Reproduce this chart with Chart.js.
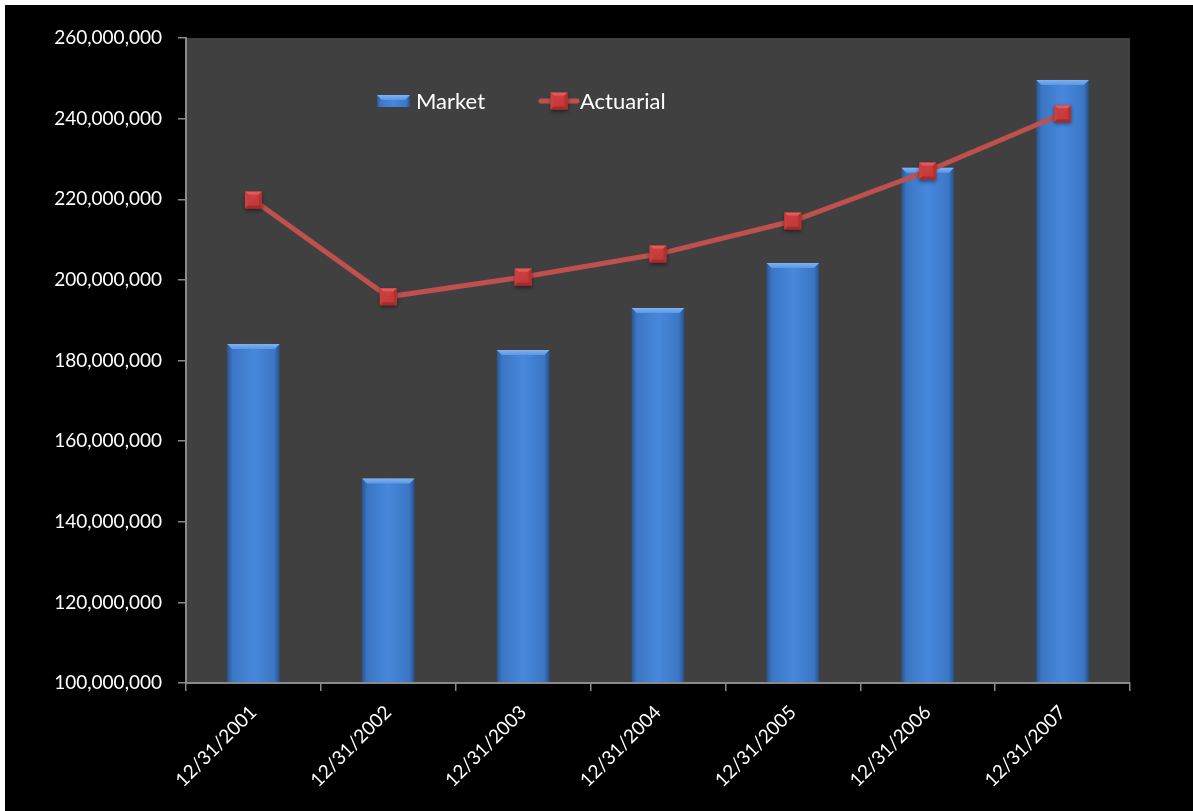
<!DOCTYPE html>
<html>
<head>
<meta charset="utf-8">
<script src="https://cdn.jsdelivr.net/npm/chart.js@4.4.1/dist/chart.umd.min.js"></script>
<style>
html,body{margin:0;padding:0;background:#ffffff;}
#wrap{position:absolute;left:5px;top:5px;width:1188px;height:806px;background:#000;}
canvas{display:block;}
</style>
</head>
<body>
<div id="wrap"><canvas id="c" width="1188" height="806"></canvas></div>
<script>
const categories = ["12/31/2001","12/31/2002","12/31/2003","12/31/2004","12/31/2005","12/31/2006","12/31/2007"];
const marketValues = [184100000, 150700000, 182600000, 193000000, 204200000, 227800000, 249600000];
const actuarialValues = [219800000, 195800000, 200700000, 206400000, 214600000, 227000000, 241200000];
const yMin = 100000000, yMax = 260000000, yStep = 20000000;
const seriesNames = ["Market","Actuarial"];

const FONT = "Lato, 'Open Sans', sans-serif";

const bgPlugin = {
  id: 'bg',
  beforeDraw(chart) {
    const {ctx, chartArea: a} = chart;
    ctx.save();
    ctx.fillStyle = '#000';
    ctx.fillRect(0, 0, chart.width, chart.height);
    ctx.fillStyle = '#404040';
    ctx.fillRect(a.left, a.top, a.right - a.left, a.bottom - a.top);
    ctx.restore();
  }
};

function drawBevelBar(ctx, x0, x1, y0, y1) {
  const w = x1 - x0;
  const g = ctx.createLinearGradient(x0, 0, x1, 0);
  g.addColorStop(0, '#2a5590');
  g.addColorStop(0.1, '#3b76c4');
  g.addColorStop(0.5, '#4788dc');
  g.addColorStop(0.9, '#3b76c4');
  g.addColorStop(1, '#274f88');
  ctx.fillStyle = g;
  ctx.fillRect(x0, y0, w, y1 - y0);
  const b = 5;
  ctx.beginPath();
  ctx.moveTo(x0, y0); ctx.lineTo(x1, y0); ctx.lineTo(x1 - b, y0 + b); ctx.lineTo(x0 + b, y0 + b); ctx.closePath();
  const tg = ctx.createLinearGradient(0, y0, 0, y0 + b);
  tg.addColorStop(0, '#7fb2f0');
  tg.addColorStop(1, '#5b97e4');
  ctx.fillStyle = tg;
  ctx.fill();
}

function drawMarker(ctx, x, y, s) {
  const h = s / 2;
  ctx.save();
  ctx.shadowColor = 'rgba(0,0,0,0.45)';
  ctx.shadowBlur = 4;
  ctx.shadowOffsetY = 2;
  ctx.fillStyle = '#b83232';
  ctx.fillRect(x - h, y - h, s, s);
  ctx.restore();
  ctx.save();
  ctx.beginPath();
  ctx.moveTo(x - h, y - h); ctx.lineTo(x + h, y - h); ctx.lineTo(x, y); ctx.closePath();
  ctx.fillStyle = '#e35a5a'; ctx.fill();
  ctx.beginPath();
  ctx.moveTo(x - h, y - h); ctx.lineTo(x - h, y + h); ctx.lineTo(x, y); ctx.closePath();
  ctx.fillStyle = '#c84040'; ctx.fill();
  ctx.beginPath();
  ctx.moveTo(x + h, y - h); ctx.lineTo(x + h, y + h); ctx.lineTo(x, y); ctx.closePath();
  ctx.fillStyle = '#b33030'; ctx.fill();
  ctx.beginPath();
  ctx.moveTo(x - h, y + h); ctx.lineTo(x + h, y + h); ctx.lineTo(x, y); ctx.closePath();
  ctx.fillStyle = '#a82a2a'; ctx.fill();
  ctx.fillStyle = 'rgba(200,60,60,0.9)';
  ctx.fillRect(x - h + 3, y - h + 3, s - 6, s - 6);
  ctx.restore();
}

const stylePlugin = {
  id: 'style',
  afterDatasetDraw(chart, args) {
    const ctx = chart.ctx;
    const a = chart.chartArea;
    if (args.index === 0) {
      const meta = chart.getDatasetMeta(0);
      ctx.save();
      meta.data.forEach(el => {
        const p = el.getProps(['x','y','base','width'], true);
        const bottom = Math.min(p.base, a.bottom - 1);
        drawBevelBar(ctx, p.x - p.width/2, p.x + p.width/2, p.y, bottom);
      });
      ctx.restore();
    } else if (args.index === 1) {
      const meta = chart.getDatasetMeta(1);
      meta.data.forEach(el => {
        const p = el.getProps(['x','y'], true);
        drawMarker(ctx, p.x, p.y, 17);
      });
    }
  },
  afterDraw(chart) {
    const ctx = chart.ctx;
    ctx.save();
    const ly = 96;
    drawBevelBar(ctx, 372, 405, ly - 6, ly + 6);
    ctx.fillStyle = '#ffffff';
    ctx.font = "22px " + FONT;
    ctx.textBaseline = 'middle';
    ctx.textAlign = 'left';
    ctx.fillText(seriesNames[0], 411, ly + 1);
    ctx.strokeStyle = '#c0504d';
    ctx.lineWidth = 5;
    ctx.lineCap = 'round';
    ctx.beginPath(); ctx.moveTo(536, ly); ctx.lineTo(572, ly); ctx.stroke();
    drawMarker(ctx, 554, ly, 17);
    ctx.fillStyle = '#ffffff';
    ctx.fillText(seriesNames[1], 575, ly + 1);
    ctx.restore();
  }
};

new Chart(document.getElementById('c'), {
  data: {
    labels: categories,
    datasets: [
      {
        type: 'bar',
        label: seriesNames[0],
        data: marketValues,
        backgroundColor: 'rgba(0,0,0,0)',
        borderWidth: 0,
        categoryPercentage: 1,
        barPercentage: 0.39,
        order: 2
      },
      {
        type: 'line',
        label: seriesNames[1],
        data: actuarialValues,
        borderColor: '#c0504d',
        borderWidth: 5,
        pointRadius: 0,
        pointHoverRadius: 0,
        tension: 0,
        order: 1
      }
    ]
  },
  options: {
    responsive: false,
    animation: false,
    devicePixelRatio: 1,
    layout: { padding: { top: 33, right: 63, left: 0, bottom: 0 } },
    plugins: { legend: { display: false }, tooltip: { enabled: false } },
    scales: {
      x: {
        offset: true,
        grid: { offset: true, drawOnChartArea: false, color: '#8a8a8a', tickLength: 8, lineWidth: 1.5 },
        border: { color: '#8a8a8a', width: 2 },
        ticks: {
          color: '#ffffff', font: { size: 19, family: FONT },
          minRotation: 45, maxRotation: 45, autoSkip: false, padding: 10
        },
        afterFit(s) { s.height = 128; }
      },
      y: {
        min: yMin, max: yMax,
        grid: { drawOnChartArea: false, color: '#8a8a8a', tickLength: 8, lineWidth: 1.5 },
        border: { color: '#8a8a8a', width: 2 },
        ticks: {
          stepSize: yStep, color: '#ffffff', font: { size: 19, family: FONT }, padding: 16,
          callback: v => Number(v).toLocaleString('en-US')
        },
        afterFit(s) { s.width = 181; }
      }
    }
  },
  plugins: [bgPlugin, stylePlugin]
});
</script>
</body>
</html>
